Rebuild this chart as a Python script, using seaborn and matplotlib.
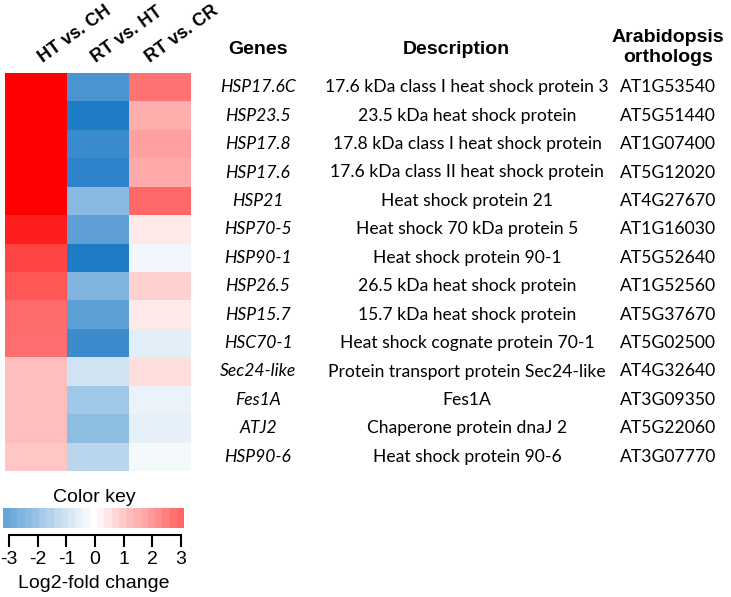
import numpy as np
import pandas as pd
import matplotlib
matplotlib.use("Agg")
import matplotlib.pyplot as plt
import seaborn as sns
from matplotlib.colors import LinearSegmentedColormap, Normalize, ListedColormap
from matplotlib.transforms import blended_transform_factory

# Data
comparisons = ["HT vs. CH", "RT vs. HT", "RT vs. CR"]
genes = ["HSP17.6C", "HSP23.5", "HSP17.8", "HSP17.6", "HSP21", "HSP70-5", "HSP90-1",
         "HSP26.5", "HSP15.7", "HSC70-1", "Sec24-like", "Fes1A", "ATJ2", "HSP90-6"]
descriptions = ["17.6 kDa class I heat shock protein 3", "23.5 kDa heat shock protein",
                "17.8 kDa class I heat shock protein", "17.6 kDa class II heat shock protein",
                "Heat shock protein 21", "Heat shock 70 kDa protein 5", "Heat shock protein 90-1",
                "26.5 kDa heat shock protein", "15.7 kDa heat shock protein",
                "Heat shock cognate protein 70-1", "Protein transport protein Sec24-like",
                "Fes1A", "Chaperone protein dnaJ 2", "Heat shock protein 90-6"]
orthologs = ["AT1G53540", "AT5G51440", "AT1G07400", "AT5G12020", "AT4G27670", "AT1G16030",
             "AT5G52640", "AT1G52560", "AT5G37670", "AT5G02500", "AT4G32640", "AT3G09350",
             "AT5G22060", "AT3G07770"]
ht_vs_ch = [6.2, 5.9, 5.7, 5.5, 5.3, 4.4, 3.65, 3.3, 2.9, 2.85, 1.25, 1.25, 1.25, 1.1]
rt_vs_ht = [-3.55, -4.4, -3.85, -4.1, -2.3, -3.15, -4.4, -2.5, -3.2, -3.8, -0.9, -1.85, -2.2, -1.35]
rt_vs_cr = [2.75, 1.6, 1.85, 1.65, 2.95, 0.45, -0.3, 0.9, 0.45, -0.55, 0.65, -0.4, -0.5, -0.2]
key_ticks = [-3, -2, -1, 0, 1, 2, 3]

df = pd.DataFrame({comparisons[0]: ht_vs_ch, comparisons[1]: rt_vs_ht,
                   comparisons[2]: rt_vs_cr}, index=genes)

W, H = 731, 597
fig = plt.figure(figsize=(W / 100, H / 100), dpi=100)

def box(x0, y0, x1, y1):
    return [x0 / W, 1 - y1 / H, (x1 - x0) / W, (y1 - y0) / H]

cmap = LinearSegmentedColormap.from_list("bwr_key", ["#0069be", "#ffffff", "#ff0000"])
vmin, vmax = -5, 5

ax = fig.add_axes(box(5, 73, 191, 471))
sns.heatmap(df, ax=ax, cmap=cmap, vmin=vmin, vmax=vmax, cbar=False,
            xticklabels=False, yticklabels=False)
ax.set_xticks([])
ax.set_yticks([])
ax.set_ylabel("")

# column labels, slanted
bold = dict(fontsize=14, fontweight="bold", family="Liberation Sans")
for x, lab in zip([43, 96, 150], comparisons):
    fig.text(x / W, 1 - 63 / H, lab, rotation=36, ha="left", va="baseline",
             rotation_mode="anchor", fontsize=13, fontweight="bold",
             family="Liberation Sans")

body = ["Lato", "DejaVu Sans"]
fs = 12.6
tr = blended_transform_factory(fig.transFigure, ax.transData)
for i in range(len(genes)):
    y = i + 0.5
    ax.text(258 / W, y, genes[i], transform=tr, ha="center", va="center",
            fontsize=fs, style="italic", family=body)
    ax.text(467 / W, y, descriptions[i], transform=tr, ha="center", va="center",
            fontsize=fs, family=body)
    ax.text(668 / W, y, orthologs[i], transform=tr, ha="center", va="center",
            fontsize=fs, family=body)

fig.text(258 / W, 1 - 49 / H, "Genes", ha="center", va="center", **bold)
fig.text(456 / W, 1 - 49 / H, "Description", ha="center", va="center", **bold)
fig.text(668 / W, 1 - 38 / H, "Arabidopsis", ha="center", va="center", **bold)
fig.text(668 / W, 1 - 58 / H, "orthologs", ha="center", va="center", **bold)

# Color key
key_vals = np.linspace(-3, 3, 25)
key_cmap = ListedColormap(cmap(Normalize(vmin, vmax)(key_vals)))
kax = fig.add_axes(box(3, 508, 184, 528))
sns.heatmap(key_vals[np.newaxis, :], ax=kax, cmap=key_cmap, cbar=False,
            xticklabels=False, yticklabels=False)
kax.set_xticks([])
kax.set_yticks([])

tax = fig.add_axes(box(9, 535, 181, 536))
tax.set_xlim(-3, 3)
tax.set_ylim(0, 1)
for s in ["left", "right", "bottom"]:
    tax.spines[s].set_visible(False)
tax.spines["top"].set_linewidth(1.5)
tax.set_yticks([])
tax.set_xticks(key_ticks)
tax.set_xticklabels([str(t) for t in key_ticks])
tax.tick_params(axis="x", direction="out", length=8, width=1.5, labelsize=14, pad=3)
for lbl in tax.get_xticklabels():
    lbl.set_family("Liberation Sans")
tax.patch.set_alpha(0)

fig.text(94 / W, 1 - 497 / H, "Color key", ha="center", va="center",
         fontsize=14, family="Liberation Sans")
fig.text(94 / W, 1 - 584 / H, "Log2-fold change", ha="center", va="center",
         fontsize=14, family="Liberation Sans")

fig.savefig("out.png", dpi=100)
